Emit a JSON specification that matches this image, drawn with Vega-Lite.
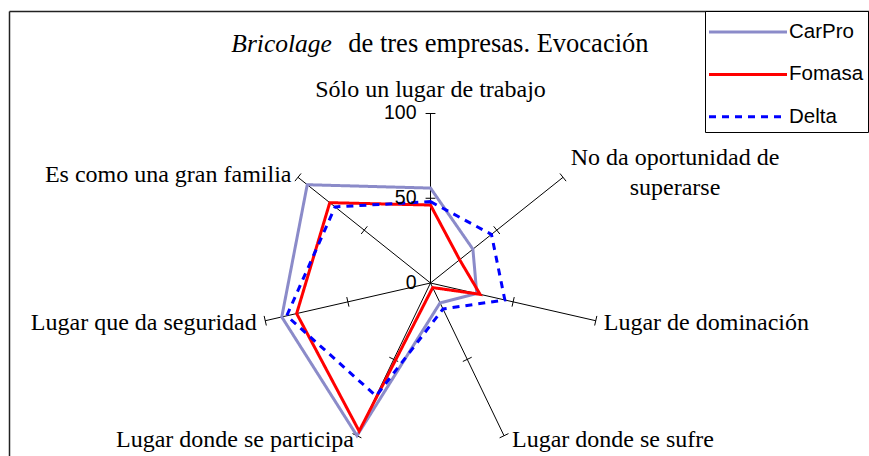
{
  "$schema": "https://vega.github.io/schema/vega-lite/v6.json",
  "width": 860,
  "height": 445,
  "autosize": {"type": "none"},
  "padding": {"left": 9, "top": 11, "right": 0, "bottom": 0},
  "background": "white",
  "config": {
    "view": {"stroke": null},
    "text": {"font": "Liberation Serif", "fontSize": 24, "color": "black"}
  },
  "datasets": {
    "ejes": [
      {"k": 0, "eje": "Sólo un lugar de trabajo"},
      {"k": 1, "eje": "No da oportunidad de\nsuperarse"},
      {"k": 2, "eje": "Lugar de dominación"},
      {"k": 3, "eje": "Lugar donde se sufre"},
      {"k": 4, "eje": "Lugar donde se participa"},
      {"k": 5, "eje": "Lugar que da seguridad"},
      {"k": 6, "eje": "Es como una gran familia"}
    ],
    "series": [
      {"empresa": "CarPro", "k": 0, "valor": 56},
      {"empresa": "CarPro", "k": 1, "valor": 32},
      {"empresa": "CarPro", "k": 2, "valor": 28},
      {"empresa": "CarPro", "k": 3, "valor": 13},
      {"empresa": "CarPro", "k": 4, "valor": 100},
      {"empresa": "CarPro", "k": 5, "valor": 90},
      {"empresa": "CarPro", "k": 6, "valor": 93},
      {"empresa": "Fomasa", "k": 0, "valor": 46},
      {"empresa": "Fomasa", "k": 1, "valor": 22},
      {"empresa": "Fomasa", "k": 2, "valor": 30},
      {"empresa": "Fomasa", "k": 3, "valor": 3},
      {"empresa": "Fomasa", "k": 4, "valor": 97},
      {"empresa": "Fomasa", "k": 5, "valor": 81},
      {"empresa": "Fomasa", "k": 6, "valor": 76},
      {"empresa": "Delta", "k": 0, "valor": 48},
      {"empresa": "Delta", "k": 1, "valor": 46},
      {"empresa": "Delta", "k": 2, "valor": 45},
      {"empresa": "Delta", "k": 3, "valor": 17},
      {"empresa": "Delta", "k": 4, "valor": 74},
      {"empresa": "Delta", "k": 5, "valor": 87},
      {"empresa": "Delta", "k": 6, "valor": 72}
    ],
    "marcas": [
      {"k": 0, "v": 50}, {"k": 0, "v": 100},
      {"k": 1, "v": 50}, {"k": 1, "v": 100},
      {"k": 2, "v": 50}, {"k": 2, "v": 100},
      {"k": 3, "v": 50}, {"k": 3, "v": 100},
      {"k": 4, "v": 50}, {"k": 4, "v": 100},
      {"k": 5, "v": 50}, {"k": 5, "v": 100},
      {"k": 6, "v": 50}, {"k": 6, "v": 100}
    ],
    "escala": [{"v": 0}, {"v": 50}, {"v": 100}],
    "titulo": [{"parte": "Bricolage"}, {"parte": "de tres empresas. Evocación"}]
  },
  "layer": [
    {
      "data": {"name": "ejes"},
      "transform": [
        {"calculate": "PI/2 - datum.k*2*PI/7", "as": "a"},
        {"calculate": "100*cos(datum.a)", "as": "x"},
        {"calculate": "100*sin(datum.a)", "as": "y"}
      ],
      "mark": {"type": "rule", "color": "black", "strokeWidth": 1},
      "encoding": {
        "x": {
          "field": "x", "type": "quantitative",
          "scale": {"domain": [-248.67, 258.7], "nice": false, "zero": false},
          "axis": {"orient": "top", "ticks": false, "labels": false, "grid": false, "title": null, "domainColor": "#222222", "domainWidth": 1.5}
        },
        "y": {
          "field": "y", "type": "quantitative",
          "scale": {"domain": [-102.06, 160.47], "nice": false, "zero": false},
          "axis": {"orient": "left", "ticks": false, "labels": false, "grid": false, "title": null, "domainColor": "#222222", "domainWidth": 1.5}
        },
        "x2": {"datum": 0},
        "y2": {"datum": 0}
      }
    },
    {
      "data": {"name": "marcas"},
      "transform": [
        {"calculate": "PI/2 - datum.k*2*PI/7", "as": "a"},
        {"calculate": "datum.v*cos(datum.a) - 2.9*sin(datum.a)", "as": "x"},
        {"calculate": "datum.v*sin(datum.a) + 2.9*cos(datum.a)", "as": "y"},
        {"calculate": "datum.v*cos(datum.a) + 2.9*sin(datum.a)", "as": "x2"},
        {"calculate": "datum.v*sin(datum.a) - 2.9*cos(datum.a)", "as": "y2"}
      ],
      "mark": {"type": "rule", "color": "black", "strokeWidth": 1},
      "encoding": {
        "x": {"field": "x", "type": "quantitative"},
        "y": {"field": "y", "type": "quantitative"},
        "x2": {"field": "x2"},
        "y2": {"field": "y2"}
      }
    },
    {
      "data": {"name": "series"},
      "transform": [
        {"calculate": "PI/2 - datum.k*2*PI/7", "as": "a"},
        {"calculate": "datum.valor*cos(datum.a)", "as": "x"},
        {"calculate": "datum.valor*sin(datum.a)", "as": "y"}
      ],
      "mark": {"type": "line", "interpolate": "linear-closed", "strokeWidth": 3},
      "encoding": {
        "x": {"field": "x", "type": "quantitative"},
        "y": {"field": "y", "type": "quantitative"},
        "order": {"field": "k", "type": "quantitative"},
        "color": {
          "field": "empresa", "type": "nominal",
          "scale": {"domain": ["CarPro", "Fomasa", "Delta"], "range": ["#8B8BC9", "#FF0000", "#0000FF"]},
          "legend": {
            "title": null, "orient": "none", "legendX": 696, "legendY": 0,
            "padding": 4, "strokeColor": "black", "fillColor": "white",
            "symbolType": "M-2.516,0H2.516", "symbolSize": 961, "symbolStrokeWidth": 3,
            "symbolOffset": 22, "labelOffset": 24, "rowPadding": 14.4,
            "labelFont": "Liberation Sans", "labelFontSize": 20.5, "labelColor": "black", "labelBaseline": "middle"
          }
        },
        "strokeDash": {
          "field": "empresa", "type": "nominal",
          "scale": {"domain": ["CarPro", "Fomasa", "Delta"], "range": [[1, 0], [1, 0], [7, 6]]},
          "legend": {"title": null}
        }
      }
    },
    {
      "data": {"name": "escala"},
      "transform": [
        {"calculate": "0", "as": "x"},
        {"calculate": "datum.v", "as": "y"}
      ],
      "mark": {"type": "text", "align": "right", "baseline": "middle", "dx": -14, "font": "Liberation Sans", "fontSize": 19.5},
      "encoding": {
        "x": {"field": "x", "type": "quantitative"},
        "y": {"field": "y", "type": "quantitative"},
        "text": {"field": "v", "type": "quantitative"}
      }
    },
    {
      "data": {"name": "ejes"},
      "transform": [
        {"calculate": "PI/2 - datum.k*2*PI/7", "as": "a"},
        {"calculate": "100*cos(datum.a)", "as": "x"},
        {"calculate": "100*sin(datum.a)", "as": "y"}
      ],
      "encoding": {
        "x": {"field": "x", "type": "quantitative"},
        "y": {"field": "y", "type": "quantitative"},
        "text": {"field": "eje"}
      },
      "layer": [
        {
          "transform": [{"filter": "datum.k == 0"}],
          "mark": {"type": "text", "align": "center", "baseline": "alphabetic", "dy": -16.8}
        },
        {
          "transform": [{"filter": "datum.k == 1"}],
          "mark": {"type": "text", "align": "center", "baseline": "alphabetic", "dx": 112, "dy": -12.3, "lineBreak": "\n", "lineHeight": 30}
        },
        {
          "transform": [{"filter": "datum.k == 2"}],
          "mark": {"type": "text", "align": "left", "baseline": "alphabetic", "dx": 8, "dy": 9.3}
        },
        {
          "transform": [{"filter": "datum.k == 3"}],
          "mark": {"type": "text", "align": "left", "baseline": "alphabetic", "dx": 8, "dy": 11.3}
        },
        {
          "transform": [{"filter": "datum.k == 4"}],
          "mark": {"type": "text", "align": "right", "baseline": "alphabetic", "dx": -3, "dy": 11.3}
        },
        {
          "transform": [{"filter": "datum.k == 5"}],
          "mark": {"type": "text", "align": "right", "baseline": "alphabetic", "dx": -8.5, "dy": 9.3}
        },
        {
          "transform": [{"filter": "datum.k == 6"}],
          "mark": {"type": "text", "align": "right", "baseline": "alphabetic", "dx": -6.5, "dy": 4.4}
        }
      ]
    },
    {
      "data": {"name": "titulo"},
      "layer": [
        {
          "transform": [{"filter": "datum.parte == 'Bricolage'"}],
          "mark": {"type": "text", "align": "left", "baseline": "alphabetic", "fontSize": 25.5, "fontStyle": "italic"},
          "encoding": {
            "x": {"datum": -117.5, "type": "quantitative"},
            "y": {"datum": 136.46, "type": "quantitative"},
            "text": {"field": "parte"}
          }
        },
        {
          "transform": [{"filter": "datum.parte != 'Bricolage'"}],
          "mark": {"type": "text", "align": "left", "baseline": "alphabetic", "fontSize": 26.5},
          "encoding": {
            "x": {"datum": -48.5, "type": "quantitative"},
            "y": {"datum": 136.46, "type": "quantitative"},
            "text": {"field": "parte"}
          }
        }
      ]
    }
  ]
}
